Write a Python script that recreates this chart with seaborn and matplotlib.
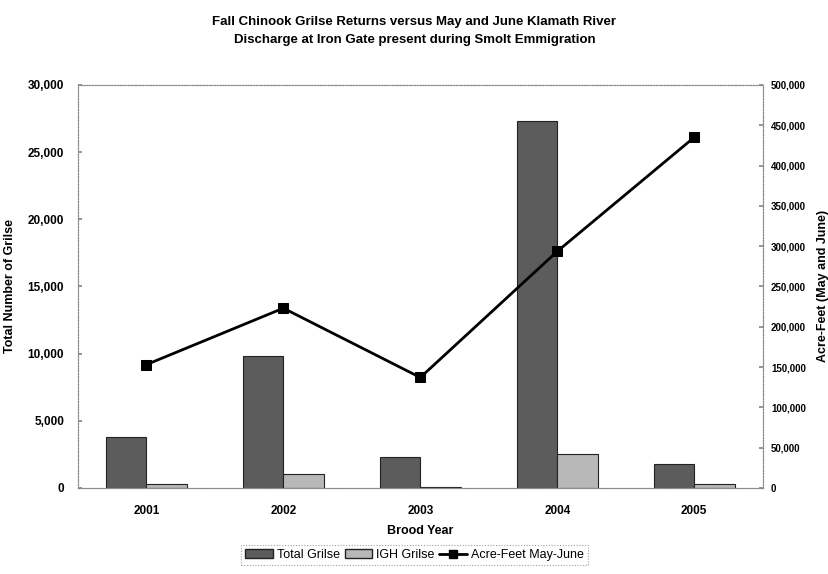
import matplotlib
matplotlib.use("Agg")
import matplotlib.pyplot as plt
from matplotlib.ticker import FuncFormatter, MultipleLocator
from matplotlib.patches import Patch
from matplotlib.lines import Line2D
import seaborn as sns
import pandas as pd

# Brood years and grilse / discharge values
years = ["2001", "2002", "2003", "2004", "2005"]
total_grilse = [3800, 9800, 2300, 27300, 1750]
igh_grilse = [300, 1000, 100, 2500, 300]
acre_feet = [153000, 223000, 137000, 293500, 435000]

sns.set_theme(style="white")
plt.rcParams["font.family"] = ["Liberation Sans", "DejaVu Sans"]
plt.rcParams["text.color"] = "black"
plt.rcParams["axes.labelcolor"] = "black"
plt.rcParams["xtick.color"] = "black"
plt.rcParams["ytick.color"] = "black"

bars = pd.DataFrame({
    "Brood Year": years * 2,
    "Grilse": total_grilse + igh_grilse,
    "Series": ["Total Grilse"] * len(years) + ["IGH Grilse"] * len(years),
})
flow = pd.DataFrame({"pos": range(len(years)), "Acre-Feet": acre_feet})

fig = plt.figure(figsize=(8.29, 5.74), dpi=100)
ax = fig.add_axes([0.094, 0.150, 0.826, 0.702])

bar_colors = {"Total Grilse": "#5c5c5c", "IGH Grilse": "#b8b8b8"}
sns.barplot(data=bars, x="Brood Year", y="Grilse", hue="Series",
            palette=bar_colors, width=0.59, edgecolor="#222222",
            linewidth=0.8, saturation=1, ax=ax, legend=False)

ax.set_ylim(0, 30000)
ax.set_xlim(-0.5, len(years) - 0.5)
ax.yaxis.set_major_locator(MultipleLocator(5000))
ax.yaxis.set_major_formatter(FuncFormatter(lambda v, _: f"{int(v):,}"))
ax.set_xlabel("Brood Year", fontsize=9, fontweight="bold", labelpad=6)
ax.set_ylabel("Total Number of Grilse", fontsize=9, fontweight="bold", labelpad=8)
ax.tick_params(axis="y", labelsize=8.5, length=3, direction="in", pad=10,
               color="#888888")
ax.tick_params(axis="x", labelsize=8.5, length=0, pad=12)
for lbl in ax.get_xticklabels() + ax.get_yticklabels():
    lbl.set_fontweight("bold")

ax2 = ax.twinx()
sns.lineplot(data=flow, x="pos", y="Acre-Feet", color="black", linewidth=2,
             marker="s", markersize=7, markeredgecolor="black", ax=ax2)
ax2.set_ylim(0, 500000)
ax2.set_xlim(-0.5, len(years) - 0.5)
ax2.yaxis.set_major_locator(MultipleLocator(50000))
ax2.yaxis.set_major_formatter(FuncFormatter(lambda v, _: f"{int(v):,}"))
ax2.set_ylabel("Acre-Feet (May and June)", fontsize=9, fontweight="bold")
ax2.yaxis.set_label_coords(1.080, 0.5)
ax2.tick_params(axis="y", labelsize=7, length=3, direction="in", pad=6,
                color="#888888")
for lbl in ax2.get_yticklabels():
    lbl.set_fontweight("bold")

for a in (ax, ax2):
    for sp in a.spines.values():
        sp.set_visible(True)
        sp.set_linestyle((0, (1, 1.5)))
        sp.set_color("#888888")
        sp.set_linewidth(0.8)
ax.spines["bottom"].set_linestyle("-")
ax.spines["bottom"].set_color("#999999")

fig.text(0.5, 0.946, "Fall Chinook Grilse Returns versus May and June Klamath River\n"
         "Discharge at Iron Gate present during Smolt Emmigration",
         ha="center", va="center", fontsize=9.5, fontweight="bold", linespacing=1.75)

handles = [
    Patch(facecolor=bar_colors["Total Grilse"], edgecolor="#222222", label="Total Grilse"),
    Patch(facecolor=bar_colors["IGH Grilse"], edgecolor="#222222", label="IGH Grilse"),
    Line2D([], [], color="black", linewidth=2, marker="s", markersize=6,
           label="Acre-Feet May-June"),
]
leg = fig.legend(handles=handles, loc="center", bbox_to_anchor=(0.5, 0.033),
                 ncol=3, fontsize=9, frameon=True, fancybox=False,
                 handlelength=2.2, handletextpad=0.3, columnspacing=0.4,
                 borderpad=0.35)
leg.get_frame().set_edgecolor("#888888")
leg.get_frame().set_linestyle((0, (1, 1.5)))
leg.get_frame().set_linewidth(0.8)

fig.savefig("out.png", dpi=100)
